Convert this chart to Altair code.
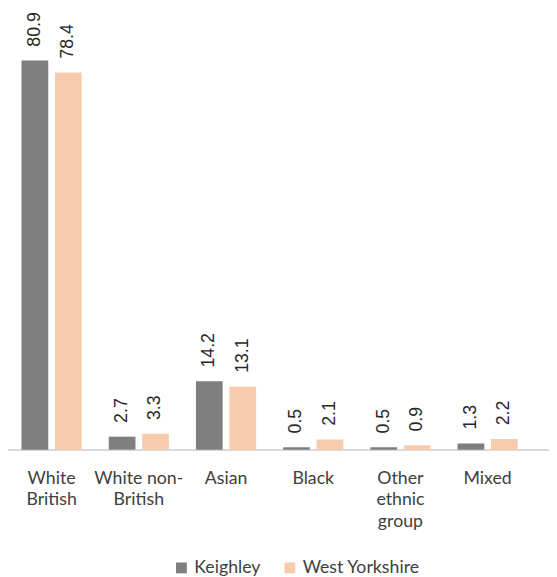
import altair as alt
import pandas as pd

categories = ["White|British", "White non-|British", "Asian", "Black", "Other|ethnic|group", "Mixed"]
series = ["Keighley", "West Yorkshire"]
keighley = [80.9, 2.7, 14.2, 0.5, 0.5, 1.3]
west_yorkshire = [78.4, 3.3, 13.1, 2.1, 0.9, 2.2]
colors = ["#7F7F7F", "#F8CBAD"]

rows = []
for c, k, w in zip(categories, keighley, west_yorkshire):
    rows.append({"cat": c, "series": series[0], "value": k, "label": f"{k:.1f}"})
    rows.append({"cat": c, "series": series[1], "value": w, "label": f"{w:.1f}"})
df = pd.DataFrame(rows)

x = alt.X("cat:N", sort=categories,
          scale=alt.Scale(paddingInner=0.31, paddingOuter=0.155),
          axis=alt.Axis(title=None, labelAngle=0, ticks=False, grid=False,
                        domain=False,
                        labelExpr="split(datum.label, '|')",
                        labelFont="Lato", labelFontSize=18, labelColor="#404040",
                        labelLineHeight=22, labelPadding=20, labelBaseline="top"))
xo = alt.XOffset("series:N", sort=series, scale=alt.Scale(paddingInner=0.2))
y = alt.Y("value:Q", scale=alt.Scale(domain=[0, 80.9], nice=False), axis=None)

base_line = alt.Chart(df).mark_rule(color="#D9D9D9", strokeWidth=1.5).encode(
    x=alt.value(0), x2=alt.value(549), y=alt.value(395)
)

bars = alt.Chart(df).mark_bar().encode(
    x=x, xOffset=xo, y=y,
    color=alt.Color("series:N", sort=series,
                    scale=alt.Scale(domain=series, range=colors),
                    legend=alt.Legend(title=None, orient="none", direction="horizontal",
                                      legendX=167, legendY=506,
                                      symbolType="square", symbolSize=121,
                                      symbolStrokeWidth=0,
                                      labelFont="Lato", labelFontSize=18,
                                      labelColor="#404040", columnPadding=20,
                                      labelOffset=4)),
)

text = alt.Chart(df).mark_text(angle=270, align="left", baseline="middle",
                               yOffset=-14, font="Liberation Sans", fontSize=18,
                               color="#262626").encode(
    x=x, xOffset=xo, y=y, text="label:N"
)

chart = (base_line + bars + text).properties(
    width=531, height=395,
    autosize=alt.AutoSizeParams(type="none"),
    padding={"left": 0, "top": 49, "right": 18, "bottom": 125},
).configure_view(stroke=None)

chart.save("out.html", embed_options={"renderer": "svg", "actions": False})
